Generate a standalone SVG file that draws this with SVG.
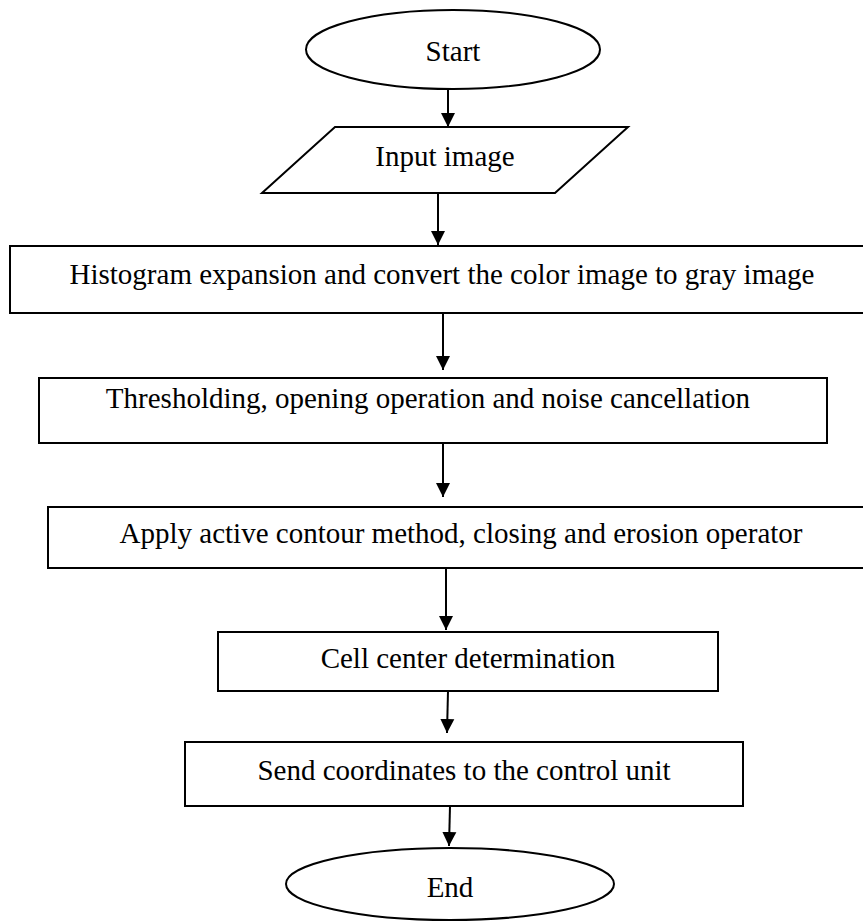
<svg xmlns="http://www.w3.org/2000/svg" width="863" height="922" viewBox="0 0 863 922">
<style>
.shape{fill:#fff;stroke:#000;stroke-width:2}
.lbl{font-family:"Liberation Serif","Times New Roman",serif;font-size:29px;fill:#000;text-anchor:middle}
.conn{stroke:#000;stroke-width:2;fill:none;marker-end:url(#arrow)}
</style>
<defs>
<marker id="arrow" markerUnits="userSpaceOnUse" markerWidth="16" markerHeight="16" viewBox="0 0 16 16" refX="14" refY="8" orient="auto">
<path d="M0,1 L14,8 L0,15 Z" fill="#000"/>
</marker>
</defs>
<rect width="863" height="922" fill="#fff"/>
<g id="start">
<ellipse class="shape" cx="453" cy="49.5" rx="147" ry="39.5"/>
<text class="lbl" x="453" y="61">Start</text>
</g>
<g id="input">
<polygon class="shape" points="335,127 628,127 555,193 262,193"/>
<text class="lbl" x="445" y="166">Input image</text>
</g>
<g id="histogram">
<rect class="shape" x="10" y="246" width="864" height="67"/>
<text class="lbl" x="442" y="284">Histogram expansion and convert the color image to gray image</text>
</g>
<g id="threshold">
<rect class="shape" x="39" y="378" width="788" height="65"/>
<text class="lbl" x="428" y="408">Thresholding, opening operation and noise cancellation</text>
</g>
<g id="contour">
<rect class="shape" x="48" y="507" width="826" height="61"/>
<text class="lbl" x="461" y="543">Apply active contour method, closing and erosion operator</text>
</g>
<g id="center">
<rect class="shape" x="218" y="632" width="500" height="59"/>
<text class="lbl" x="468" y="668">Cell center determination</text>
</g>
<g id="send">
<rect class="shape" x="185" y="742" width="558" height="64"/>
<text class="lbl" x="464" y="780">Send coordinates to the control unit</text>
</g>
<g id="end">
<ellipse class="shape" cx="450" cy="884" rx="164" ry="36"/>
<text class="lbl" x="450" y="897">End</text>
</g>
<g id="connectors">
<line class="conn" x1="448" y1="89" x2="448" y2="127"/>
<line class="conn" x1="438" y1="193" x2="438" y2="245"/>
<line class="conn" x1="443" y1="313" x2="443" y2="370"/>
<line class="conn" x1="443" y1="443" x2="443" y2="497"/>
<line class="conn" x1="446" y1="568" x2="446" y2="630"/>
<line class="conn" x1="448" y1="691" x2="447" y2="733"/>
<line class="conn" x1="450" y1="806" x2="449" y2="846"/>
</g>
</svg>
